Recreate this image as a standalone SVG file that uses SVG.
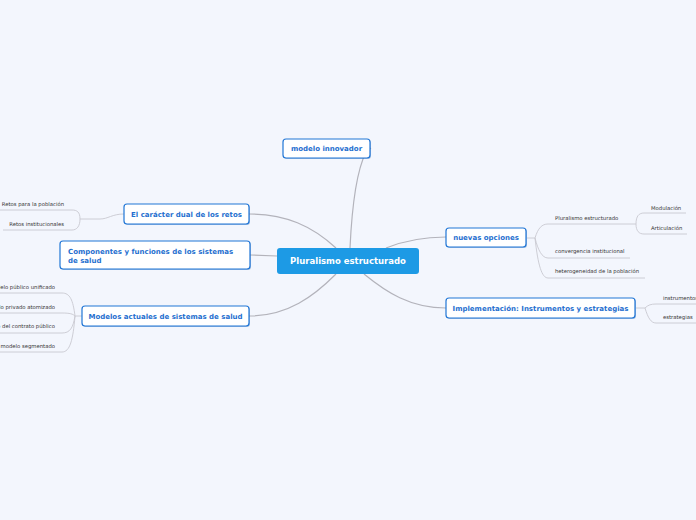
<svg xmlns="http://www.w3.org/2000/svg" width="696" height="520" viewBox="0 0 696 520">
<style>
.bg{fill:#f3f6fd}
.node rect.b{fill:#ffffff;stroke:#2176d6;stroke-width:1.2}
.node rect.s{fill:#1a5fb0;opacity:0.35}
.nt{font-family:"DejaVu Sans",Verdana,sans-serif;font-weight:bold;font-size:7px;fill:#1f6fcf}
.ct{font-family:"DejaVu Sans",Verdana,sans-serif;font-weight:bold;font-size:8.5px;fill:#ffffff}
.lt{font-family:"DejaVu Sans",Verdana,sans-serif;font-size:5.3px;fill:#333333}
.c{fill:none;stroke:#b3b3bb;stroke-width:1.2}
.l{fill:none;stroke:#c8c8d0;stroke-width:0.9}
</style>
<rect class="bg" x="0" y="0" width="696" height="520"/>
<g id="connectors">
<path class="c" d="M350,248 C352,205 357,170 366,152 L371,148"/>
<path class="c" d="M336,248 C312,226 286,214 249,214"/>
<path class="c" d="M277,256 L250,255"/>
<path class="c" d="M336,274 C314,296 288,316 249,316"/>
<path class="c" d="M386,248 C406,240 424,237 446,237"/>
<path class="c" d="M364,274 C386,292 410,308 446,308"/>
<!-- El caracter dual leaves -->
<path class="l" d="M124,214 C112,214 108,219 100,219 L80,219"/>
<path class="l" d="M80,219 C80,212 77,210 72,210 L0,210"/>
<path class="l" d="M80,219 C80,226 77,230 72,230 L3,230"/>
<!-- Modelos actuales leaves -->
<path class="l" d="M82,316 L75,316"/>
<path class="l" d="M75,316 C73,300 70,293 62,293 L0,293"/>
<path class="l" d="M75,316 C73,314 70,313 62,313 L0,313"/>
<path class="l" d="M75,316 C73,328 70,333 62,333 L0,333"/>
<path class="l" d="M75,316 C73,340 70,352 62,352 L0,352"/>
<!-- nuevas opciones leaves -->
<path class="l" d="M527,238 L535,238"/>
<path class="l" d="M535,238 C538,228 542,224 548,224 L625,224 L636,224"/>
<path class="l" d="M535,238 C538,250 542,258 548,258 L630,258"/>
<path class="l" d="M535,238 C538,266 542,278 548,278 L645,278"/>
<path class="l" d="M636,224 C636,216 639,213 644,213 L686,213"/>
<path class="l" d="M636,224 C636,231 639,234 644,234 L687,234"/>
<!-- Implementacion leaves -->
<path class="l" d="M636,308 L645,308"/>
<path class="l" d="M645,308 C648,305 651,304 656,304 L696,304"/>
<path class="l" d="M645,308 C648,318 651,323 656,323 L696,323"/>
</g>
<g id="center" class="node">
<rect x="277" y="248" width="142" height="26" rx="3" fill="#1d9ae5"/>
<text class="ct" x="348" y="264" text-anchor="middle">Pluralismo estructurado</text>
</g>
<g id="modelo-innovador" class="node">
<rect class="s" x="284" y="140" width="87" height="19" rx="3"/>
<rect class="b" x="283" y="139" width="87" height="19" rx="3"/>
<text class="nt" x="326.5" y="151" text-anchor="middle">modelo innovador</text>
</g>
<g id="caracter-dual" class="node">
<rect class="s" x="125" y="205" width="125" height="20" rx="3"/>
<rect class="b" x="124" y="204" width="125" height="20" rx="3"/>
<text class="nt" x="186.5" y="216.5" text-anchor="middle">El carácter dual de los retos</text>
</g>
<g id="componentes" class="node">
<rect class="s" x="61" y="242" width="190" height="28" rx="3"/>
<rect class="b" x="60" y="241" width="190" height="28" rx="3"/>
<text class="nt" x="68" y="254">Componentes y funciones de los sistemas</text>
<text class="nt" x="68" y="263">de salud</text>
</g>
<g id="modelos-actuales" class="node">
<rect class="s" x="83" y="307" width="167" height="20" rx="3"/>
<rect class="b" x="82" y="306" width="167" height="20" rx="3"/>
<text class="nt" x="165.5" y="318.5" text-anchor="middle">Modelos actuales de sistemas de salud</text>
</g>
<g id="nuevas-opciones" class="node">
<rect class="s" x="447" y="229" width="80" height="19" rx="3"/>
<rect class="b" x="446" y="228" width="80" height="19" rx="3"/>
<text class="nt" x="486" y="240" text-anchor="middle">nuevas opciones</text>
</g>
<g id="implementacion" class="node">
<rect class="s" x="447" y="299" width="189" height="20" rx="3"/>
<rect class="b" x="446" y="298" width="189" height="20" rx="3"/>
<text class="nt" x="540.5" y="310.5" text-anchor="middle">Implementación: Instrumentos y estrategias</text>
</g>
<g id="leaf-retos-poblacion"><text class="lt" x="64" y="206" text-anchor="end">Retos para la población</text></g>
<g id="leaf-retos-institucionales"><text class="lt" x="64" y="226" text-anchor="end">Retos institucionales</text></g>
<g id="leaf-publico-unificado"><text class="lt" x="55" y="289" text-anchor="end">Modelo público unificado</text></g>
<g id="leaf-privado-atomizado"><text class="lt" x="55" y="309" text-anchor="end">Modelo privado atomizado</text></g>
<g id="leaf-contrato-publico"><text class="lt" x="55" y="328" text-anchor="end">Modelo del contrato público</text></g>
<g id="leaf-segmentado"><text class="lt" x="55" y="348" text-anchor="end">El modelo segmentado</text></g>
<g id="leaf-pluralismo"><text class="lt" x="555" y="220">Pluralismo estructurado</text></g>
<g id="leaf-modulacion"><text class="lt" x="651" y="210">Modulación</text></g>
<g id="leaf-articulacion"><text class="lt" x="651" y="230">Articulación</text></g>
<g id="leaf-convergencia"><text class="lt" x="555" y="253">convergencia institucional</text></g>
<g id="leaf-heterogeneidad"><text class="lt" x="555" y="273">heterogeneidad de la población</text></g>
<g id="leaf-instrumentos"><text class="lt" x="663" y="300">instrumentos</text></g>
<g id="leaf-estrategias"><text class="lt" x="663" y="319">estrategias</text></g>
</svg>
